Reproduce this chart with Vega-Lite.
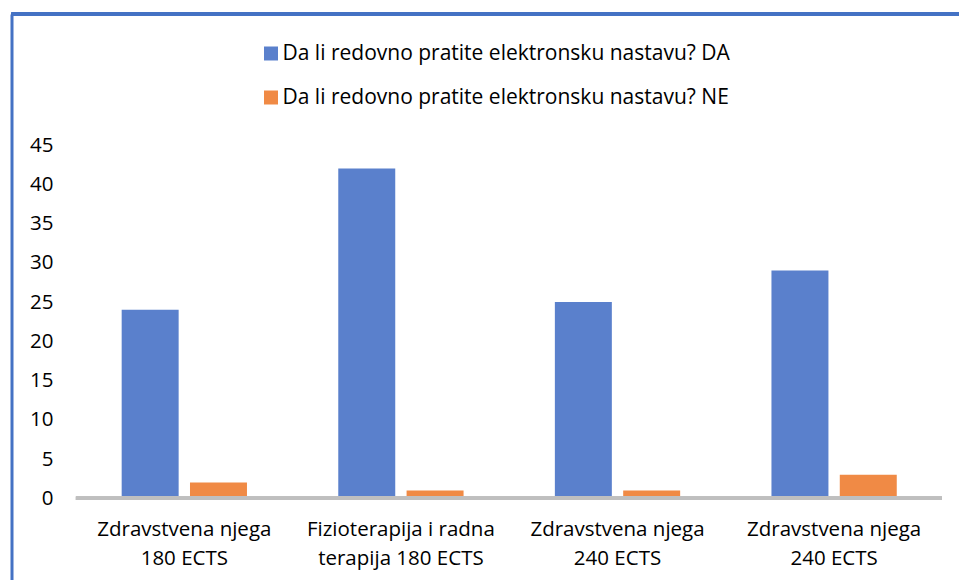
{
  "$schema": "https://vega.github.io/schema/vega-lite/v6.json",
  "width": 947.5,
  "height": 566,
  "autosize": {"type": "none"},
  "padding": {"left": 11.5, "top": 14, "right": 0, "bottom": 0},
  "background": "white",
  "config": {"view": {"stroke": null}, "font": "Open Sans"},
  "data": {
    "values": [
      {"program": "Zdravstvena njega\n180 ECTS", "odgovor": "Da li redovno pratite elektronsku nastavu? DA", "broj": 24},
      {"program": "Zdravstvena njega\n180 ECTS", "odgovor": "Da li redovno pratite elektronsku nastavu? NE", "broj": 2},
      {"program": "Fizioterapija i radna\nterapija 180 ECTS", "odgovor": "Da li redovno pratite elektronsku nastavu? DA", "broj": 42},
      {"program": "Fizioterapija i radna\nterapija 180 ECTS", "odgovor": "Da li redovno pratite elektronsku nastavu? NE", "broj": 1},
      {"program": "Zdravstvena njega\n240 ECTS", "odgovor": "Da li redovno pratite elektronsku nastavu? DA", "broj": 25},
      {"program": "Zdravstvena njega\n240 ECTS", "odgovor": "Da li redovno pratite elektronsku nastavu? NE", "broj": 1},
      {"program": "Zdravstvena njega\n240 ECTS ", "odgovor": "Da li redovno pratite elektronsku nastavu? DA", "broj": 29},
      {"program": "Zdravstvena njega\n240 ECTS ", "odgovor": "Da li redovno pratite elektronsku nastavu? NE", "broj": 3}
    ]
  },
  "layer": [
    {
      "mark": {"type": "rule", "color": "#4472C4", "strokeWidth": 3},
      "encoding": {"y": {"datum": 61.69, "type": "quantitative"}}
    },
    {
      "mark": {"type": "bar"},
      "encoding": {
        "x": {
          "field": "program",
          "type": "nominal",
          "sort": null,
          "scale": {
            "domain": ["Zdravstvena njega\n180 ECTS", "Fizioterapija i radna\nterapija 180 ECTS", "Zdravstvena njega\n240 ECTS", "Zdravstvena njega\n240 ECTS "],
            "paddingInner": 0.4215,
            "paddingOuter": 0.398,
            "align": 0.639
          },
          "axis": {
            "orient": "bottom",
            "domain": false,
            "ticks": false,
            "tickSize": 0,
            "grid": false,
            "labelPadding": -50.5,
            "labelFontSize": 20.5,
            "labelLineHeight": 29,
            "labelBaseline": "middle",
            "labelAngle": 0,
            "labelLimit": 0,
            "labelColor": "#000000",
            "labelExpr": "split(datum.label, '\\n')",
            "title": null
          }
        },
        "xOffset": {
          "field": "odgovor",
          "type": "nominal",
          "scale": {"paddingInner": 0.166, "paddingOuter": 0}
        },
        "y": {
          "field": "broj",
          "type": "quantitative",
          "scale": {"domain": [-10.41, 61.69], "zero": false, "nice": false},
          "axis": {
            "values": [0, 5, 10, 15, 20, 25, 30, 35, 40, 45],
            "domain": true,
            "domainColor": "#4472C4",
            "domainWidth": 3,
            "ticks": false,
            "tickSize": 0,
            "grid": false,
            "labelPadding": -41.5,
            "labelFontSize": 20.5,
            "labelColor": "#000000",
            "title": null
          }
        },
        "y2": {"datum": 0},
        "color": {
          "field": "odgovor",
          "type": "nominal",
          "scale": {"range": ["#5a80cc", "#f08a45"]},
          "legend": {
            "orient": "none",
            "legendX": 249,
            "legendY": 29,
            "direction": "vertical",
            "title": null,
            "symbolType": "square",
            "symbolSize": 196,
            "symbolStrokeWidth": 0,
            "labelFontSize": 21,
            "labelOffset": 1,
            "labelLimit": 0,
            "labelColor": "#000000",
            "rowPadding": 22,
            "padding": 0
          }
        }
      }
    },
    {
      "mark": {"type": "rule", "color": "#BFBFBF", "strokeWidth": 3.5},
      "encoding": {
        "x": {"datum": "Zdravstvena njega\n180 ECTS", "bandPosition": -0.365},
        "x2": {"datum": "Zdravstvena njega\n240 ECTS ", "bandPosition": 1.358},
        "y": {"datum": 0, "type": "quantitative"}
      }
    }
  ]
}
